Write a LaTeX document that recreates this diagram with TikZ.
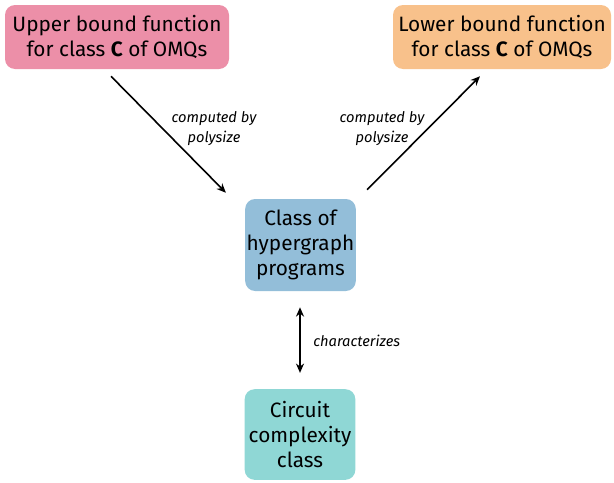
\documentclass[tikz,border=0pt]{standalone}
\usepackage{fontspec}
\setmainfont{Fira Sans}
\usetikzlibrary{arrows.meta}
\definecolor{cpink}{RGB}{236,143,168}
\definecolor{corange}{RGB}{248,193,139}
\definecolor{cblue}{RGB}{147,190,217}
\definecolor{cteal}{RGB}{143,215,213}
\begin{document}
\begin{tikzpicture}[x=0.75pt,y=-0.75pt,
  box/.style={rounded corners=7.5pt,inner sep=0pt,align=center,font=\fontsize{15.6}{19}\selectfont},
  lbl/.style={font=\fontsize{11}{15}\selectfont\itshape,align=center,inner sep=0pt},
  arr/.style={-{Stealth[length=7pt,width=6pt]},line width=1.2pt}]
\useasboundingbox (0,0) rectangle (614,482);
\node[box,fill=cpink,minimum width=168pt,minimum height=48pt] (ub) at (117,37) {Upper bound function\\for class \textbf{C} of OMQs};
\node[box,fill=corange,minimum width=163.5pt,minimum height=48pt] (lb) at (502,37) {Lower bound function\\for class \textbf{C} of OMQs};
\node[box,fill=cblue,minimum width=83pt,minimum height=69pt] (hp) at (300.5,245) {Class of\\hypergraph\\programs};
\node[box,fill=cteal,minimum width=83pt,minimum height=68pt] (cc) at (300,434.5) {Circuit\\complexity\\class};
\coordinate (a1) at ([shift={(-6,7)}]ub.south);
\coordinate (a2) at ([shift={(-19,-6)}]hp.north west);
\coordinate (b1) at ([shift={(11,-9)}]hp.north east);
\coordinate (b2) at ([shift={(-22,7)}]lb.south);
\coordinate (c1) at ([shift={(-0.5,16)}]hp.south);
\coordinate (c2) at ([shift={(0,-16)}]cc.north);
\draw[arr] (a1) -- (a2);
\draw[arr] (b1) -- (b2);
\draw[arr,{Stealth[length=7pt,width=6pt]}-{Stealth[length=7pt,width=6pt]}] (c1) -- (c2);
\node[lbl] (l1) at (214,129) {computed by\\polysize};
\node[lbl] (l2) at (382,129) {computed by\\polysize};
\node[lbl,anchor=west] (l3) at (313,341) {characterizes};
\end{tikzpicture}
\end{document}
